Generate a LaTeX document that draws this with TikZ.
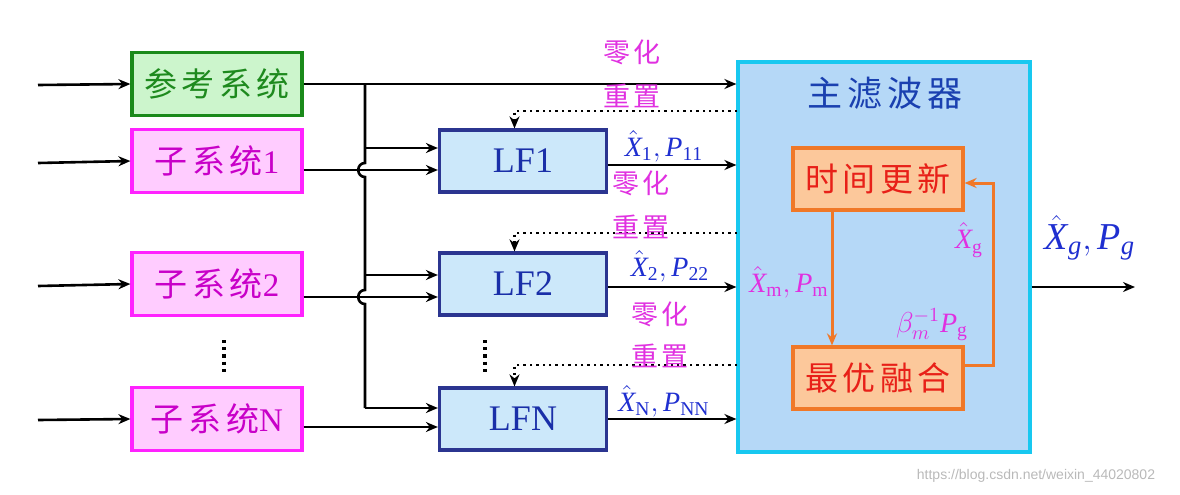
\documentclass[tikz,border=0pt]{standalone}
\usepackage{fontspec}
\setmainfont{Liberation Serif}
\newfontfamily\cjk[LetterSpace=14]{Noto Sans CJK SC}
\newfontfamily\wmfont{Liberation Sans}
\usetikzlibrary{arrows.meta}
\definecolor{RefLine}{HTML}{1A8A1A}
\definecolor{RefFill}{HTML}{CCF5CC}
\definecolor{RefText}{HTML}{1E8A1E}
\definecolor{SubLine}{HTML}{FF22FF}
\definecolor{SubFill}{HTML}{FFCCFF}
\definecolor{SubText}{HTML}{C800C8}
\definecolor{LfLine}{HTML}{2B3590}
\definecolor{LfFill}{HTML}{CCE8FA}
\definecolor{LfText}{HTML}{1A2FA8}
\definecolor{MainLine}{HTML}{18C8F0}
\definecolor{MainFill}{HTML}{B5D8F7}
\definecolor{TitleBlue}{HTML}{1A40B0}
\definecolor{OrLine}{HTML}{F07828}
\definecolor{OrFill}{HTML}{FCC89B}
\definecolor{OrText}{HTML}{E82018}
\definecolor{TagPink}{HTML}{E030E0}
\definecolor{EstBlue}{HTML}{1F2FD0}
\begin{document}
\begin{tikzpicture}[x=0.5pt, y=-0.5pt, >={Stealth[length=6pt,width=5pt]},
  refbox/.style={draw=RefLine, fill=RefFill, line width=1.6pt, minimum width=85pt,
    minimum height=31.5pt, inner sep=0pt, text=RefText, font=\fontsize{16.5}{16.5}\selectfont},
  subbox/.style={refbox, draw=SubLine, fill=SubFill, text=SubText},
  lfbox/.style={draw=LfLine, fill=LfFill, line width=1.6pt, minimum width=83.5pt,
    minimum height=31pt, text=LfText, font=\fontsize{18}{18}\selectfont},
  mainbox/.style={draw=MainLine, fill=MainFill, line width=1.6pt, minimum width=146pt,
    minimum height=195pt},
  updbox/.style={draw=OrLine, fill=OrFill, line width=1.6pt, minimum width=85pt,
    minimum height=31pt, text=OrText, font=\cjk\fontsize{16.5}{16.5}\selectfont},
  tag/.style={text=TagPink, font=\cjk\fontsize{13.5}{13.5}\selectfont},
  est/.style={text=EstBlue, font=\fontsize{14}{14}\selectfont},
  pinkmath/.style={text=TagPink, font=\fontsize{14}{14}\selectfont},
  link/.style={->, line width=1.3pt},
  resetline/.style={->, dotted, line width=1.2pt},
  feed/.style={->, draw=OrLine, line width=1.5pt, >={Stealth[length=6pt,width=5pt]}}]
\useasboundingbox (0,0) rectangle (1180,494);
% systems on the left
\node[refbox] (S_0) at (217,84) {\cjk 参考系统};
\node[subbox] (S_1) at (217,161) {{\cjk 子系统}1};
\node[subbox] (S_2) at (217,284) {{\cjk 子系统}2};
\node[subbox] (S_N) at (217,419) {{\cjk 子系统}N};
\draw[dotted, line width=1.6pt] (224,340) -- (224,372);
\coordinate (I_0) at (38,85);
\coordinate (I_1) at (38,163);
\coordinate (I_2) at (38,286);
\coordinate (I_N) at (38,420);
\draw[link] (I_0) -- (S_0.west);
\draw[link] (I_1) -- (S_1.west);
\draw[link] (I_2) -- (S_2.west);
\draw[link] (I_N) -- (S_N.west);
% local filters
\node[lfbox] (L_1) at (523,161) {LF1};
\node[lfbox] (L_2) at (523,284) {LF2};
\node[lfbox] (L_N) at (523,419) {LFN};
\draw[dotted, line width=1.6pt] (485,340) -- (485,372);
% main filter
\node[mainbox] (M) at (884,257) {};
\node[text=TitleBlue, font=\cjk\fontsize{17.5}{17.5}\selectfont] (T_0) at (885,93) {主滤波器};
\node[updbox] (U) at (878,179) {时间更新};
\node[updbox] (F) at (878,378) {最优融合};
% reference line and bus
\draw[link] (S_0.east) -- (M.west |- S_0.east);
\draw[line width=1.3pt] (365,84) -- (365,163) .. controls (356,163) and (356,177) .. (365,177)
  -- (365,290) .. controls (356,290) and (356,304) .. (365,304) -- (365,408);
\draw[link] (365,148) -- ([yshift=6.5pt]L_1.west);
\draw[link] (365,275) -- ([yshift=4.5pt]L_2.west);
\draw[link] (365,408) -- ([yshift=5.5pt]L_N.west);
\draw[link] ([yshift=-4.5pt]S_1.east) -- ([yshift=-4.5pt]L_1.west);
\draw[link] ([yshift=-6.5pt]S_2.east) -- ([yshift=-6.5pt]L_2.west);
\draw[link] ([yshift=-4pt]S_N.east) -- ([yshift=-4pt]L_N.west);
% local estimates to the main filter
\coordinate (A_1) at ([yshift=-2pt]L_1.east);
\coordinate (A_2) at ([yshift=-1.5pt]L_2.east);
\draw[link] (A_1) -- (M.west |- A_1);
\draw[link] (A_2) -- (M.west |- A_2);
\draw[link] (L_N.east) -- (M.west |- L_N.east);
\node[est] (E_1) at (664,146) {$\hat{\mathit{X}}_{\mathrm{1}}, \mathit{P}_{\mathrm{11}}$};
\node[est] (E_2) at (670,266) {$\hat{\mathit{X}}_{\mathrm{2}}, \mathit{P}_{\mathrm{22}}$};
\node[est] (E_N) at (664,401) {$\hat{\mathit{X}}_{\mathrm{N}}, \mathit{P}_{\mathrm{NN}}$};
% reset feedback
\coordinate (D_1) at (737,111);
\coordinate (D_2) at (737,233);
\coordinate (D_N) at (737,365);
\draw[resetline] (D_1) -| ([xshift=-4.25pt]L_1.north);
\draw[resetline] (D_2) -| ([xshift=-4.25pt]L_2.north);
\draw[resetline] (D_N) -| ([xshift=-4.25pt]L_N.north);
\node[tag] (Z_1) at (632,52) {零化};
\node[tag] (R_1) at (632,96) {重置};
\node[tag] (Z_2) at (641,183) {零化};
\node[tag] (R_2) at (641,227) {重置};
\node[tag] (Z_N) at (660,314) {零化};
\node[tag] (R_N) at (660,356) {重置};
% inside the main filter
\draw[feed] ([xshift=-23pt]U.south) -- ([xshift=-23pt]F.north);
\draw[feed] ([yshift=6.5pt]F.east) -- ++(29,0) |- ([yshift=-2pt]U.east);
\node[pinkmath] (K_m) at (789,282) {$\hat{\mathit{X}}_{\mathrm{m}}, \mathit{P}_{\mathrm{m}}$};
\node[pinkmath] (K_g) at (969,240) {$\hat{\mathit{X}}_{\mathrm{g}}$};
\node[pinkmath] (K_b) at (932,325) {$\beta_m^{-1} \mathit{P}_{\mathrm{g}}$};
% global output
\coordinate (O) at (1135,287);
\draw[link] ([yshift=-15pt]M.east) -- (O);
\node[est, font=\fontsize{19}{19}\selectfont] (G) at (1090,238) {$\hat{\mathit{X}}_{\mathit{g}}, \mathit{P}_{\mathit{g}}$};
\node[text=gray!55, font=\wmfont\fontsize{7}{7}\selectfont] (W) at (1036,476) {https://blog.csdn.net/weixin\_44020802};
\end{tikzpicture}
\end{document}
